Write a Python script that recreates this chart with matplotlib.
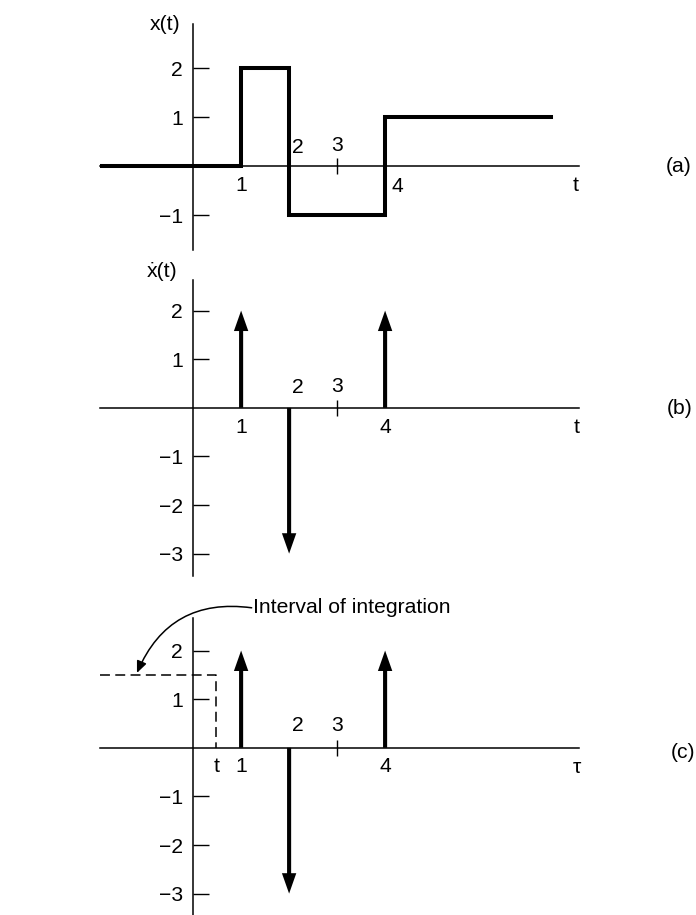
import matplotlib
matplotlib.use('Agg')
import matplotlib.pyplot as plt

plt.rcParams['font.family'] = ['Liberation Sans', 'DejaVu Sans']

# ---- data ----
step_t = [-1.94, 1, 2, 4, 7.46]      # breakpoints of x(t)
step_x = [0, 2, -1, 1, 1]            # value of x(t) after each breakpoint
impulse_t = [1, 2, 4]                # impulse locations of dx/dt
impulse_area = [2, -3, 2]            # impulse areas
yticks_a = [-1, 1, 2]
yticks_bc = [-3, -2, -1, 1, 2]
interval_t = 0.48                    # the running time t in panel (c)
interval_level = 1.5
xlim = (-1.94, 8.04)

W, H = 696, 915
fig = plt.figure(figsize=(W / 100, H / 100), dpi=100)
fs = 15.2


def make_axes(top, bottom, ylim, yticks):
    ax = fig.add_axes([100 / W, 1 - bottom / H, 479 / W, (bottom - top) / H])
    ax.set_xlim(*xlim)
    ax.set_ylim(*ylim)
    for s in ['top', 'right']:
        ax.spines[s].set_visible(False)
    for s in ['left', 'bottom']:
        ax.spines[s].set_position(('data', 0))
        ax.spines[s].set_linewidth(1.1)
    ax.patch.set_visible(False)
    ax.set_yticks(yticks)
    ax.tick_params(axis='y', direction='in', length=11.5, width=1.0,
                   labelsize=fs, pad=7.5)
    ax.set_xticks([3])
    ax.set_xticklabels([])
    ax.tick_params(axis='x', direction='inout', length=11, width=1.0)
    return ax


# ---- panel (a) ----
ax_a = make_axes(24, 250, (-1.71, 2.9), yticks_a)
ax_a.step(step_t, step_x, where='post', color='black', lw=2.9,
          solid_joinstyle='miter')
for txt, x, y in [('1', 1, -0.39), ('2', 2.19, 0.39), ('3', 3, 0.43),
                  ('4', 4.25, -0.41), ('t', 7.96, -0.39)]:
    ax_a.text(x, y, txt, ha='center', va='center', fontsize=fs)
ax_a.text(-0.58, 2.88, 'x(t)', ha='center', va='center', fontsize=fs)
fig.text(679 / W, 1 - 167 / H, '(a)', ha='center', va='center', fontsize=fs)

# ---- panel (b) ----
ax_b = make_axes(280, 576, (-3.46, 2.63), yticks_bc)
for t, a in zip(impulse_t, impulse_area):
    ax_b.arrow(t, 0, 0, a, width=0.085, head_width=0.3, head_length=0.42,
               length_includes_head=True, fc='black', ec='none')
for txt, x, y in [('1', 1, -0.41), ('2', 2.19, 0.41), ('3', 3, 0.43),
                  ('4', 4, -0.41), ('t', 8.0, -0.41)]:
    ax_b.text(x, y, txt, ha='center', va='center', fontsize=fs)
ax_b.text(-0.65, 2.80, '\u1e8b(t)', ha='center', va='center', fontsize=fs)
fig.text(680 / W, 1 - 408 / H, '(b)', ha='center', va='center', fontsize=fs)

# ---- panel (c) ----
ax_c = make_axes(618, 915, (-3.44, 2.67), yticks_bc)
for t, a in zip(impulse_t, impulse_area):
    ax_c.arrow(t, 0, 0, a, width=0.085, head_width=0.3, head_length=0.42,
               length_includes_head=True, fc='black', ec='none')
ax_c.plot([xlim[0], interval_t, interval_t], [interval_level, interval_level, 0],
          ls=(0, (6.5, 3.5)), lw=1.1, color='black')
for txt, x, y in [('t', interval_t, -0.39), ('1', 1, -0.39), ('2', 2.19, 0.45),
                  ('3', 3, 0.45), ('4', 4, -0.39), ('\u03c4', 8.0, -0.41)]:
    ax_c.text(x, y, txt, ha='center', va='center', fontsize=fs)
ax_c.text(1.24, 2.88, 'Interval of integration', ha='left', va='center',
          fontsize=fs)
ax_c.annotate('', xy=(-1.17, 1.54), xytext=(1.22, 2.88),
              arrowprops=dict(arrowstyle='-|>,head_length=0.35,head_width=0.15',
                              connectionstyle='arc3,rad=0.38', lw=1.1,
                              color='black', shrinkA=0, shrinkB=0,
                              mutation_scale=20),
              annotation_clip=False)
fig.text(683 / W, 1 - 752 / H, '(c)', ha='center', va='center', fontsize=fs)

fig.savefig('out.png', dpi=100)
